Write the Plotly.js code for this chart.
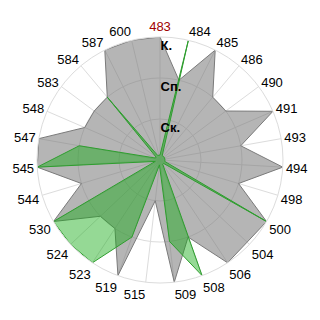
<!DOCTYPE html>
<html><head><meta charset="utf-8">
<script src="https://cdn.plot.ly/plotly-3.0.1.min.js"></script>
<style>html,body{margin:0;padding:0;background:#fff}#chart{width:320px;height:320px}</style>
</head><body><div id="chart"></div>
<script>
const categories = ['483','484','485','486','490','491','493','494','498','500','504','506','508','509','515','519','523','524','530','544','545','547','548','583','584','587','600'];
const grayValues = [3,2,3,2,2,3,2,3,2,3,2.92,3,2,3,1,3,2,2,3,2,3,3,2,2,2,3,3];
const greenValues = [0.12,3,0.12,0.12,0.12,0.12,0.12,0.12,0.12,3,0.12,0.12,3,2,0.12,2,3,3,3,0.12,3,2,0.12,0.12,2,0.12,0.12];
const levelValues = [1,2,3];
const levelLabels = ['Ск.','Сп.','К.'];
const highlighted = '483';

const close = a => a.concat([a[0]]);
const tickText = categories.map(c => c === highlighted ? '<span style="color:#a00000">' + c + '</span>' : c);

const traces = [
  {type:'scatterpolar', theta: close(categories), r: close(grayValues), mode:'lines', fill:'toself',
   fillcolor:'rgba(120,120,120,0.55)', line:{color:'#7a7a7a', width:1}, hoverinfo:'skip'},
  {type:'scatterpolar', theta: close(categories), r: close(greenValues), mode:'lines', fill:'toself',
   fillcolor:'rgba(20,170,20,0.45)', line:{color:'#2e9e2e', width:1}, hoverinfo:'skip'}
];
const layout = {
  width:320, height:320, showlegend:false,
  margin:{l:37,r:37,t:37,b:37},
  paper_bgcolor:'#fff',
  font:{family:'Arial, Liberation Sans, sans-serif', size:13, color:'#000'},
  polar:{
    bgcolor:'#fff',
    domain:{x:[0,1],y:[0,1]},
    angularaxis:{type:'category', categoryarray:categories, direction:'clockwise', rotation:90,
      tickmode:'array', tickvals:categories, ticktext:tickText, ticks:'',
      showline:true, linecolor:'#dcdcdc', linewidth:1, gridcolor:'#dcdcdc', gridwidth:1,
      tickfont:{size:13, color:'#000'}},
    radialaxis:{range:[0,3], tickmode:'array', tickvals:levelValues, ticktext:levelLabels.map(t => '<br>' + t),
      angle:90, tickangle:90, side:'clockwise', showline:false, ticks:'',
      gridcolor:'#dcdcdc', gridwidth:1,
      tickfont:{size:13, color:'#000', family:'Arial, Liberation Sans, sans-serif', weight:'bold'}}
  }
};
Plotly.newPlot('chart', traces, layout, {staticPlot:true, displayModeBar:false});
</script></body></html>
